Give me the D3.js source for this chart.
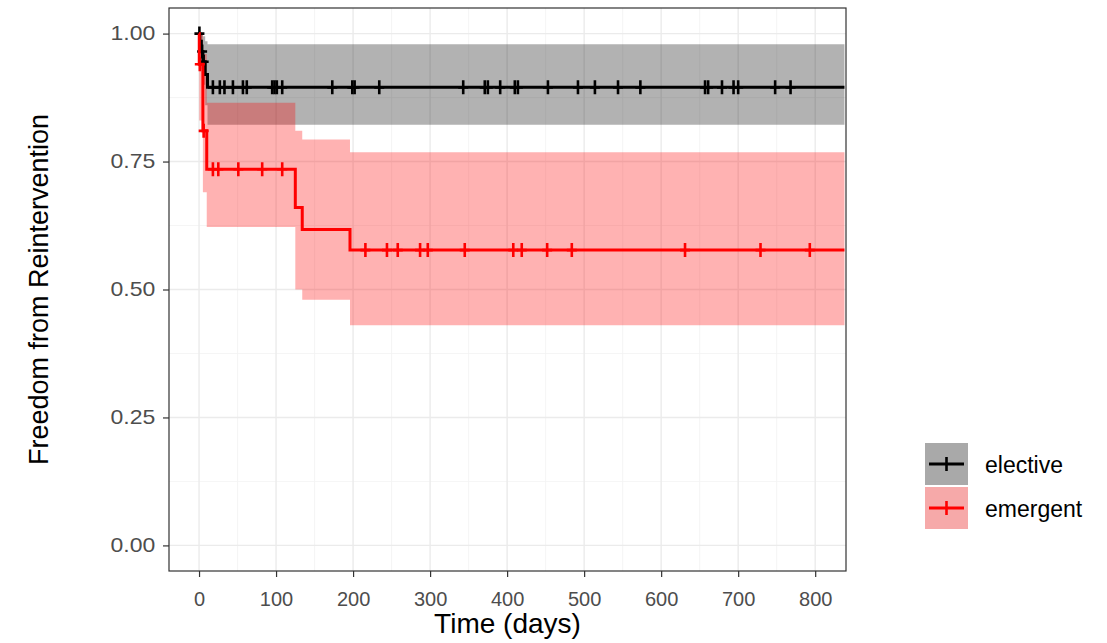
<!DOCTYPE html>
<html><head><meta charset="utf-8">
<script src="https://cdn.jsdelivr.net/npm/d3@7"></script>
<style>
html,body{margin:0;padding:0;background:#fff;}
text{font-family:"Liberation Sans",Arial,sans-serif;}
</style></head>
<body><svg id="chart" width="1107" height="643"></svg>
<script>
// ---- data ----
const xTicks = [0, 100, 200, 300, 400, 500, 600, 700, 800];
const yTicks = [0, 0.25, 0.5, 0.75, 1.0];
const yTickLabels = ["0.00", "0.25", "0.50", "0.75", "1.00"];
const groups = ["elective", "emergent"];
const endTime = 838;

const electiveTime  = [0, 1, 3, 5, 8, 11];
const electiveSurv  = [1.0, 0.985, 0.965, 0.945, 0.92, 0.895];
const electiveUpper = [1.0, 1.0, 1.0, 0.995, 0.985, 0.979];
const electiveLower = [1.0, 0.96, 0.93, 0.90, 0.86, 0.822];
const electiveCensor = [0.5, 4, 6, 18, 27, 33, 44, 57, 62, 95, 98, 101, 108, 173, 199, 202, 234,
  343, 371, 375, 391, 410, 414, 453, 492, 514, 544, 573, 657, 661, 679, 694, 700, 748, 768];

const emergentTime  = [0, 0.3, 5, 10, 125, 134, 196];
const emergentSurv  = [1.0, 0.94, 0.81, 0.735, 0.66, 0.617, 0.577];
const emergentUpper = [1.0, 1.0, 0.96, 0.865, 0.81, 0.793, 0.768];
const emergentLower = [1.0, 0.83, 0.69, 0.622, 0.50, 0.48, 0.43];
const emergentCensor = [1, 6, 18, 25, 51, 82, 108, 216, 244, 258, 287, 297, 345, 408, 419, 452, 484, 631, 729, 793];

const lineColors = ["#000000", "#ff0000"];
const fillColors = ["rgba(0,0,0,0.3)", "rgba(255,0,0,0.3)"];

// ---- layout ----
const svg = d3.select("#chart");
const P = {left: 169, right: 846, top: 8, bottom: 571};
const x = d3.scaleLinear().domain([-39, 840]).range([P.left, P.right]);
const y = d3.scaleLinear().domain([-0.05, 1.05]).range([P.bottom, P.top]);

svg.append("rect").attr("x", 0).attr("y", 0).attr("width", 1107).attr("height", 643).attr("fill", "#fff");

// grid
const g = svg.append("g");
const xMinor = xTicks.slice(0, -1).map(d => d + 50);
const yMinor = yTicks.slice(0, -1).map(d => d + 0.125);
g.selectAll(".xmin").data(xMinor).enter().append("line")
  .attr("x1", d => x(d)).attr("x2", d => x(d)).attr("y1", P.top).attr("y2", P.bottom)
  .attr("stroke", "#f2f2f2").attr("stroke-width", 0.8);
g.selectAll(".ymin").data(yMinor).enter().append("line")
  .attr("y1", d => y(d)).attr("y2", d => y(d)).attr("x1", P.left).attr("x2", P.right)
  .attr("stroke", "#f2f2f2").attr("stroke-width", 0.8);
g.selectAll(".xmaj").data(xTicks).enter().append("line")
  .attr("x1", d => x(d)).attr("x2", d => x(d)).attr("y1", P.top).attr("y2", P.bottom)
  .attr("stroke", "#ebebeb").attr("stroke-width", 1.4);
g.selectAll(".ymaj").data(yTicks).enter().append("line")
  .attr("y1", d => y(d)).attr("y2", d => y(d)).attr("x1", P.left).attr("x2", P.right)
  .attr("stroke", "#ebebeb").attr("stroke-width", 1.4);

// series
function build(times, surv, up, lo) {
  const pts = times.map((t, i) => ({t, s: surv[i], u: up[i], l: lo[i]}));
  const last = pts[pts.length - 1];
  pts.push({t: endTime, s: last.s, u: last.u, l: last.l});
  return pts;
}
function survAt(times, surv, t) {
  let v = surv[0];
  for (let i = 0; i < times.length; i++) if (times[i] <= t) v = surv[i];
  return v;
}
const series = [
  {name: "elective", pts: build(electiveTime, electiveSurv, electiveUpper, electiveLower),
   cens: electiveCensor.map(t => ({t, s: survAt(electiveTime, electiveSurv, t)}))},
  {name: "emergent", pts: build(emergentTime, emergentSurv, emergentUpper, emergentLower),
   cens: emergentCensor.map(t => ({t, s: survAt(emergentTime, emergentSurv, t)}))}
];

const area = d3.area().curve(d3.curveStepAfter).x(d => x(d.t)).y0(d => y(d.l)).y1(d => y(d.u));
const line = d3.line().curve(d3.curveStepAfter).x(d => x(d.t)).y(d => y(d.s));

svg.append("clipPath").attr("id", "clip").append("rect")
  .attr("x", P.left).attr("y", P.top).attr("width", P.right - P.left).attr("height", P.bottom - P.top);
const plot = svg.append("g").attr("clip-path", "url(#clip)");

series.forEach((s, i) => {
  plot.append("path").attr("d", area(s.pts)).attr("fill", fillColors[i]);
});
series.forEach((s, i) => {
  plot.append("path").attr("d", line(s.pts)).attr("fill", "none")
    .attr("stroke", lineColors[i]).attr("stroke-width", 3);
  const cg = plot.append("g");
  cg.selectAll("path").data(s.cens).enter().append("path")
    .attr("d", d => `M${x(d.t)},${y(d.s) - 7}V${y(d.s) + 7}M${x(d.t) - 5},${y(d.s)}H${x(d.t) + 5}`)
    .attr("stroke", lineColors[i]).attr("stroke-width", 2.6).attr("fill", "none");
});

// panel border
svg.append("rect").attr("x", P.left).attr("y", P.top).attr("width", P.right - P.left).attr("height", P.bottom - P.top)
  .attr("fill", "none").attr("stroke", "#333333").attr("stroke-width", 1.2);

// axes
const xAxis = d3.axisBottom(x).tickValues(xTicks).tickSize(6).tickPadding(15);
const gx = svg.append("g").attr("transform", `translate(0,${P.bottom})`).call(xAxis);
const yAxis = d3.axisLeft(y).tickValues(yTicks).tickSize(6).tickPadding(6)
  .tickFormat((d, i) => yTickLabels[i]);
const gy = svg.append("g").attr("transform", `translate(${P.left},0)`).call(yAxis);
[gx, gy].forEach(ax => {
  ax.select(".domain").remove();
  ax.selectAll(".tick line").attr("stroke", "#333333").attr("stroke-width", 1.2);
  ax.selectAll(".tick text").attr("fill", "#4d4d4d").style("font-size", "20px")
    .style("font-family", "'Liberation Sans', Arial, sans-serif");
});
gy.selectAll(".tick text").attr("transform", "scale(1.15,1)");

// axis titles
svg.append("text").attr("x", (P.left + P.right) / 2).attr("y", 633).attr("text-anchor", "middle")
  .style("font-size", "28px").attr("fill", "#000").text("Time (days)");
svg.append("text").attr("transform", `translate(48,${(P.top + P.bottom) / 2}) rotate(-90)`)
  .attr("text-anchor", "middle").style("font-size", "27px").attr("fill", "#000")
  .text("Freedom from Reintervention");

// legend
const lg = svg.append("g").attr("transform", "translate(925,443)");
groups.forEach((name, i) => {
  const row = lg.append("g").attr("transform", `translate(0,${i * 44})`);
  row.append("rect").attr("x", 0).attr("y", 0).attr("width", 43).attr("height", 42).attr("fill", "#f2f2f2");
  row.append("rect").attr("x", 0).attr("y", 0).attr("width", 43).attr("height", 42).attr("fill", fillColors[i]);
  row.append("line").attr("x1", 4).attr("x2", 39).attr("y1", 21).attr("y2", 21)
    .attr("stroke", lineColors[i]).attr("stroke-width", 3);
  row.append("line").attr("x1", 21.5).attr("x2", 21.5).attr("y1", 14).attr("y2", 28)
    .attr("stroke", lineColors[i]).attr("stroke-width", 2.6);
  row.append("text").attr("x", 60).attr("y", 22).attr("dy", "0.35em")
    .style("font-size", "23px").attr("fill", "#000").text(name);
});
</script></body></html>
